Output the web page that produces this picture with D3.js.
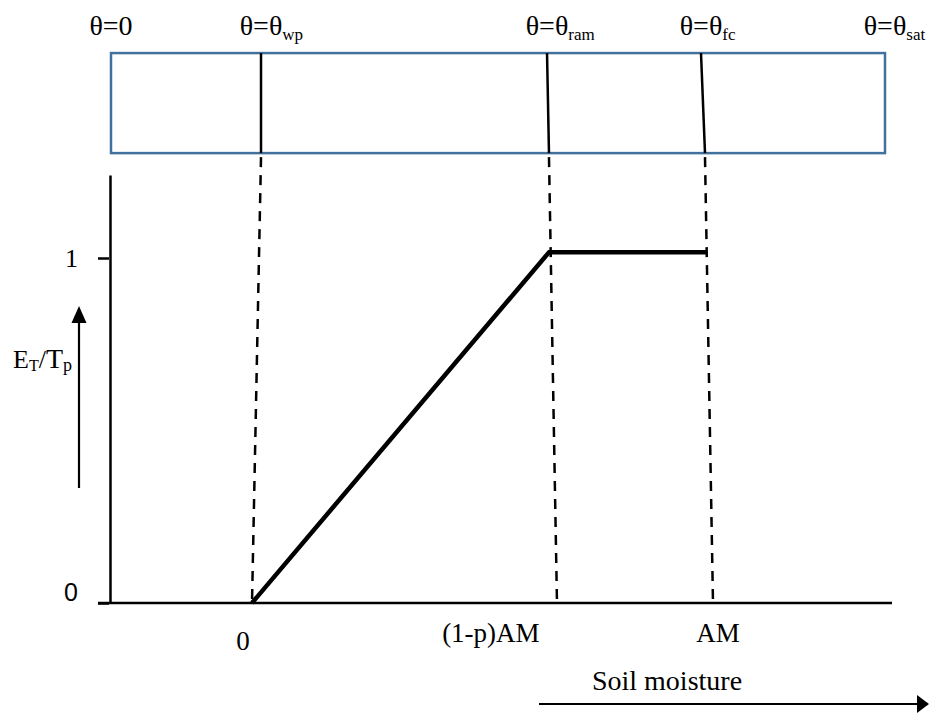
<!DOCTYPE html>
<html><head><meta charset="utf-8">
<script src="https://cdn.jsdelivr.net/npm/d3@7"></script>
<style>
body{margin:0;background:#fff;}
svg{display:block;}
text{font-family:"Liberation Serif","Times New Roman",serif;fill:#000;}
</style>
</head><body>
<svg id="c" width="929" height="713"></svg>
<script>
// ---- data (soil-moisture units: 0 = wilting point, 1 = AM / field capacity) ----
const stateMain = ["θ=0", "θ=θ", "θ=θ", "θ=θ", "θ=θ"];
const stateSub  = ["", "wp", "ram", "fc", "sat"];
const stateAt   = [-0.3099, 0.0198, 0.6484, 0.9868, 1.3912];   // where each state sits on the soil column
const columnTop    = [0.0198, 0.6484, 0.9868];  // marker lines in the soil column (upper end)
const columnBottom = [0.0198, 0.6527, 0.9956];  // marker lines in the soil column (lower end)
const guideBottom  = [0.0, 0.6703, 1.0132];     // dashed guides where they meet the axis
const curveX = [0, 0.653, 1.0];
const curveY = [0, 1.017, 1.017];
const xTickLabels = ["0", "(1-p)AM", "AM"];
const xTickAt     = [-0.02, 0.525, 1.024];
const yTickValues = [0, 1];
const yTickLabels = ["0", "1"];
const xExtent = [-0.3385, 1.4066];
const yAxisAt = -0.3121;
const yExtent = [0, 1.2406];
const columnX = [-0.3099, 1.3912];
const columnY = [1.304, 1.594];

// ---- scales ----
const svg = d3.select("#c");
const x = d3.scaleLinear().domain([0, 1]).range([252, 707]);
const y = d3.scaleLinear().domain([0, 1]).range([603, 258]);

// ---- soil column box ----
svg.append("rect")
  .attr("x", x(columnX[0])).attr("y", y(columnY[1]))
  .attr("width", x(columnX[1]) - x(columnX[0]))
  .attr("height", y(columnY[0]) - y(columnY[1]))
  .attr("fill", "none").attr("stroke", "#41719C").attr("stroke-width", 2.5);

svg.selectAll("line.col").data(columnTop).join("line")
  .attr("class", "col")
  .attr("x1", d => x(d)).attr("y1", y(columnY[1]))
  .attr("x2", (d, i) => x(columnBottom[i])).attr("y2", y(columnY[0]))
  .attr("stroke", "#000").attr("stroke-width", 2.5);

// ---- dashed guides ----
svg.selectAll("line.guide").data(columnBottom).join("line")
  .attr("class", "guide")
  .attr("x1", d => x(d)).attr("y1", y(columnY[0]) + 4)
  .attr("x2", (d, i) => x(guideBottom[i])).attr("y2", y(0))
  .attr("stroke", "#000").attr("stroke-width", 2.5)
  .attr("stroke-dasharray", "10,8");

// ---- state labels above the column ----
const topG = svg.append("g");
stateMain.forEach((m, i) => {
  const t = topG.append("text").attr("y", 35).attr("font-size", 28);
  const mainSpan = t.append("tspan").text(m);
  if (stateSub[i]) t.append("tspan").attr("font-size", 17).attr("dy", 5).text(stateSub[i]);
  const w = mainSpan.node().getComputedTextLength();
  t.attr("x", x(stateAt[i]) - w / 2);
});

// ---- axes ----
svg.append("line")
  .attr("x1", x(xExtent[0])).attr("x2", x(xExtent[1]))
  .attr("y1", y(0)).attr("y2", y(0))
  .attr("stroke", "#000").attr("stroke-width", 2.5);

const yAx = y.copy().domain(yExtent).range([y(yExtent[0]), y(yExtent[1])]);
const yAxisG = svg.append("g").attr("transform", `translate(${x(yAxisAt)},0)`)
  .call(d3.axisLeft(yAx).tickValues(yTickValues).tickSize(12).tickSizeOuter(0)
        .tickPadding(20).tickFormat((d, i) => yTickLabels[i]));
yAxisG.select(".domain").attr("stroke", "#000").attr("stroke-width", 2.5);
yAxisG.selectAll(".tick line").attr("stroke", "#000").attr("stroke-width", 2.5)
  .attr("x2", -11).attr("transform", "translate(-1,0)");
yAxisG.selectAll(".tick text")
  .attr("fill", "#000")
  .style("font-family", d => d === 0 ? "'Liberation Sans',Arial,sans-serif" : "'Liberation Serif','Times New Roman',serif")
  .style("font-size", d => d === 0 ? "25px" : "26px")
  .attr("dy", d => d === 0 ? "-0.12em" : "0.32em");

// x tick labels
svg.selectAll("text.xl").data(xTickLabels).join("text")
  .attr("class", "xl")
  .attr("x", (d, i) => x(xTickAt[i]))
  .attr("y", (d, i) => i === 0 ? 650 : 642)
  .attr("text-anchor", "middle").attr("font-size", 27)
  .text(d => d);

// ---- response curve ----
const line = d3.line().x(d => x(d[0])).y(d => y(d[1]));
svg.append("path")
  .datum(curveX.map((v, i) => [v, curveY[i]]))
  .attr("d", line)
  .attr("fill", "none").attr("stroke", "#000").attr("stroke-width", 4.5)
  .attr("stroke-linejoin", "miter");

// ---- y label with arrow ----
const yl = svg.append("text").attr("x", 13).attr("y", 368).attr("font-size", 26);
yl.append("tspan").text("E");
yl.append("tspan").attr("font-size", 16).attr("dy", 3).text("T");
yl.append("tspan").attr("dy", -3).text("/");
yl.append("tspan").attr("font-size", 28).text("T");
yl.append("tspan").attr("font-size", 18).attr("dy", 3).text("p");

svg.append("line").attr("x1", 79).attr("x2", 79).attr("y1", 488).attr("y2", 318)
  .attr("stroke", "#000").attr("stroke-width", 2.2);
svg.append("path").attr("d", "M79,306 L71.5,323 L86.5,323 Z").attr("fill", "#000");

// ---- soil moisture label + arrow ----
svg.append("text").attr("x", 667).attr("y", 690).attr("text-anchor", "middle")
  .attr("font-size", 28).text("Soil moisture");
svg.append("line").attr("x1", 539).attr("x2", 920).attr("y1", 704).attr("y2", 704)
  .attr("stroke", "#000").attr("stroke-width", 2.2);
svg.append("path").attr("d", "M929,704 L917,695 L917,713 Z").attr("fill", "#000");
</script>
</body></html>
